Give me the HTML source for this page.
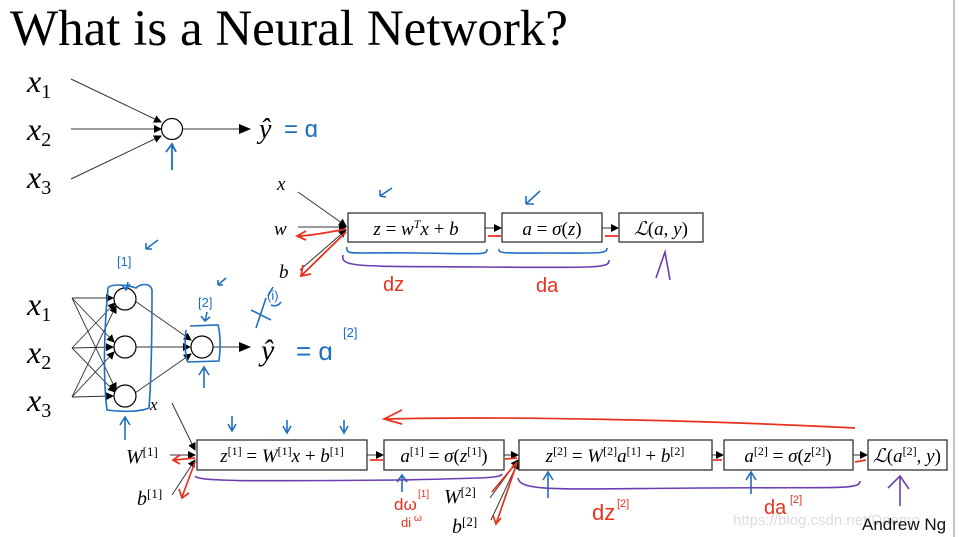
<!DOCTYPE html>
<html><head><meta charset="utf-8"><style>
body{margin:0;background:#fff;}
svg{display:block;}
.s{font-family:"Liberation Serif","DejaVu Serif",serif;font-style:italic;}
.m{font-family:"Liberation Serif","DejaVu Serif",serif;}
</style></head><body>
<svg width="959" height="537" viewBox="0 0 959 537" xmlns="http://www.w3.org/2000/svg">
<defs>
<marker id="ah" markerWidth="8" markerHeight="8" refX="7" refY="4" orient="auto" markerUnits="userSpaceOnUse"><path d="M0,0 L8,4 L0,8 z" fill="#000"/></marker>
<marker id="ahs" markerWidth="12" markerHeight="10" refX="11" refY="5" orient="auto" markerUnits="userSpaceOnUse"><path d="M0,0 L12,5 L0,10 z" fill="#000"/></marker>
</defs>
<rect width="959" height="537" fill="#fff"/>
<line x1="954" y1="0" x2="954" y2="537" stroke="#888" stroke-width="1"/>
<text x="10" y="45" class="m" font-size="51">What is a Neural Network?</text>

<!-- top network -->
<g class="s" font-size="32">
<text x="27" y="92">x<tspan font-size="20" dy="6" font-style="normal">1</tspan></text>
<text x="27" y="140">x<tspan font-size="20" dy="6" font-style="normal">2</tspan></text>
<text x="27" y="188">x<tspan font-size="20" dy="6" font-style="normal">3</tspan></text>
</g>
<g stroke="#333" stroke-width="1" fill="none">
<line x1="71" y1="79" x2="161" y2="122" marker-end="url(#ah)"/>
<line x1="71" y1="129" x2="161" y2="129" marker-end="url(#ah)"/>
<line x1="71" y1="179" x2="161" y2="136" marker-end="url(#ah)"/>
<line x1="183" y1="129" x2="250" y2="129" marker-end="url(#ahs)"/>
</g>
<circle cx="172" cy="129" r="10.5" fill="#fff" stroke="#000" stroke-width="1.2"/>
<text x="259" y="138" class="s" font-size="28">ŷ</text>
<text x="284" y="137" font-family="Liberation Sans" font-size="24" fill="#1f6fc0">= ɑ</text>
<path d="M172,170 L172,145 M166,152 L172,144 L176,152" stroke="#1f6fc0" stroke-width="1.8" fill="none"/>

<!-- middle logistic graph -->
<g class="s" font-size="19"><text x="277" y="190">x</text><text x="274" y="235">w</text><text x="279" y="278">b</text></g>
<g stroke="#333" stroke-width="1" fill="none">
<line x1="298" y1="192" x2="346" y2="226" marker-end="url(#ah)"/>
<line x1="298" y1="227" x2="346" y2="227" marker-end="url(#ah)"/>
<line x1="300" y1="270" x2="346" y2="230" marker-end="url(#ah)"/>
<line x1="485" y1="228" x2="501" y2="228" marker-end="url(#ah)"/>
<line x1="602" y1="228" x2="618" y2="228" marker-end="url(#ah)"/>
</g>
<g fill="#fff" stroke="#333" stroke-width="1.3">
<rect x="348" y="213" width="137" height="29"/><rect x="502" y="213" width="100" height="29"/><rect x="619" y="213" width="84" height="29"/>
</g>
<g class="m" font-size="19" text-anchor="middle">
<text x="416" y="235"><tspan font-style="italic">z</tspan> = <tspan font-style="italic">w</tspan><tspan font-size="12" dy="-7" font-style="italic">T</tspan><tspan dy="7" font-style="italic">x</tspan> + <tspan font-style="italic">b</tspan></text>
<text x="552" y="235"><tspan font-style="italic">a</tspan> = <tspan font-style="italic">σ</tspan>(<tspan font-style="italic">z</tspan>)</text>
<text x="661" y="235"><tspan font-style="italic">ℒ</tspan>(<tspan font-style="italic">a</tspan>, <tspan font-style="italic">y</tspan>)</text>
</g>
<g stroke="#e8321e" stroke-width="1.8" fill="none">
<path d="M346,229 C330,232 310,236 298,236 M306,231 L297,236 L306,240"/>
<path d="M346,232 L302,275 M303,265 L301,276 L311,274"/>
<path d="M501,236 L488,236"/><path d="M618,236 L605,236"/>
</g>
<g stroke="#1f6fc0" stroke-width="1.6" fill="none">
<path d="M347,247 C346,256 350,252 418,253 C486,254 487,255 487,249"/>
<path d="M499,249 C498,254 505,253 552,253 C600,253 607,254 607,248"/>
<path d="M380,196 L392,188 M380,196 L380,190 M380,196 L386,197"/>
<path d="M526,204 L540,191 M526,204 L526,196 M526,204 L534,204"/>
</g>
<path d="M343,255 C340,268 360,266 480,267 C600,268 610,268 609,260" stroke="#6a3fb0" stroke-width="1.6" fill="none"/>
<path d="M656,278 L665,252 L670,280" stroke="#6a3fb0" stroke-width="1.6" fill="none"/>
<text x="383" y="291" font-family="Liberation Sans" font-size="20" fill="#e8321e">dz</text>
<text x="536" y="292" font-family="Liberation Sans" font-size="20" fill="#e8321e">da</text>

<!-- bottom network -->
<g class="s" font-size="32">
<text x="27" y="315">x<tspan font-size="20" dy="6" font-style="normal">1</tspan></text>
<text x="27" y="363">x<tspan font-size="20" dy="6" font-style="normal">2</tspan></text>
<text x="27" y="411">x<tspan font-size="20" dy="6" font-style="normal">3</tspan></text>
</g>
<g stroke="#333" stroke-width="0.9" fill="none">
<line x1="72" y1="298" x2="113" y2="298" marker-end="url(#ah)"/>
<line x1="72" y1="298" x2="114" y2="342" marker-end="url(#ah)"/>
<line x1="72" y1="298" x2="116" y2="390" marker-end="url(#ah)"/>
<line x1="72" y1="348" x2="115" y2="303" marker-end="url(#ah)"/>
<line x1="72" y1="348" x2="113" y2="347" marker-end="url(#ah)"/>
<line x1="72" y1="348" x2="115" y2="392" marker-end="url(#ah)"/>
<line x1="72" y1="397" x2="116" y2="306" marker-end="url(#ah)"/>
<line x1="72" y1="397" x2="114" y2="352" marker-end="url(#ah)"/>
<line x1="72" y1="397" x2="113" y2="396" marker-end="url(#ah)"/>
<line x1="135" y1="301" x2="191" y2="340" marker-end="url(#ah)"/>
<line x1="136" y1="347" x2="190" y2="347" marker-end="url(#ah)"/>
<line x1="135" y1="393" x2="191" y2="354" marker-end="url(#ah)"/>
<line x1="213" y1="347" x2="250" y2="347" marker-end="url(#ahs)"/>
</g>
<g fill="#fff" stroke="#000" stroke-width="1.2">
<circle cx="125" cy="299" r="11"/><circle cx="125" cy="347" r="11"/><circle cx="125" cy="396" r="11"/><circle cx="202" cy="347" r="11"/>
</g>
<text x="261" y="360" class="s" font-size="30">ŷ</text>
<text x="296" y="360" font-family="Liberation Sans" font-size="26" fill="#1f6fc0">= ɑ</text>
<text x="343" y="337" font-family="Liberation Sans" font-size="13" fill="#1f6fc0">[2]</text>
<g stroke="#1f6fc0" stroke-width="1.6" fill="none">
<path d="M108,288 C104,330 103,380 107,410 C120,412 140,412 149,408 C152,370 152,320 152,290 C150,282 140,284 136,288 C125,284 110,284 108,288"/>
<path d="M186,330 C184,345 186,360 188,362 L219,361 C221,345 220,332 218,325 L190,326"/>
<path d="M125,440 L125,418 M120,425 L125,417 L130,425"/>
<path d="M204,388 L204,368 M199,375 L204,367 L209,375"/>
<path d="M128,282 L126,290 M122,285 L126,290 L130,284"/>
<path d="M205,321 L207,312 M201,316 L205,321 L210,317"/>
<path d="M146,249 L158,240 M146,249 L146,243 M146,249 L152,249"/>
<path d="M218,285 L226,278 M218,285 L218,280 M218,285 L223,285"/>
<path d="M256,328 L266,298 M251,310 L271,320"/>
<path d="M268,296 L273,287 M271,305 C275,307 279,305 281,302"/>
</g>
<text x="117" y="266" font-family="Liberation Sans" font-size="13" fill="#1f6fc0">[1]</text>
<text x="198" y="307" font-family="Liberation Sans" font-size="13" fill="#1f6fc0">[2]</text>
<text x="267" y="300" font-family="Liberation Sans" font-size="13" fill="#1f6fc0">(i)</text>
<text x="150" y="410" class="s" font-size="17">x</text>

<!-- bottom row -->
<g class="s" font-size="20">
<text x="126" y="463">W<tspan font-size="13" font-style="normal" dy="-7">[1]</tspan></text>
<text x="137" y="505">b<tspan font-size="13" font-style="normal" dy="-7">[1]</tspan></text>
<text x="444" y="503">W<tspan font-size="13" font-style="normal" dy="-7">[2]</tspan></text>
<text x="452" y="533">b<tspan font-size="13" font-style="normal" dy="-7">[2]</tspan></text>
</g>
<g stroke="#333" stroke-width="1" fill="none">
<line x1="172" y1="403" x2="195" y2="450" marker-end="url(#ah)"/>
<line x1="170" y1="455" x2="195" y2="455" marker-end="url(#ah)"/>
<line x1="172" y1="495" x2="195" y2="460" marker-end="url(#ah)"/>
<line x1="367" y1="455" x2="383" y2="455" marker-end="url(#ah)"/>
<line x1="504" y1="455" x2="518" y2="455" marker-end="url(#ah)"/>
<line x1="490" y1="498" x2="518" y2="460" marker-end="url(#ah)"/>
<line x1="491" y1="520" x2="518" y2="462" marker-end="url(#ah)"/>
<line x1="712" y1="455" x2="723" y2="455" marker-end="url(#ah)"/>
<line x1="853" y1="455" x2="867" y2="455" marker-end="url(#ah)"/>
</g>
<g fill="#fff" stroke="#333" stroke-width="1.3">
<rect x="197" y="440" width="170" height="30"/><rect x="384" y="440" width="120" height="30"/><rect x="519" y="440" width="193" height="30"/><rect x="724" y="440" width="129" height="30"/><rect x="868" y="440" width="79" height="30"/>
</g>
<g class="m" font-size="19" text-anchor="middle">
<text x="282" y="462"><tspan font-style="italic">z</tspan><tspan font-size="12" dy="-7">[1]</tspan><tspan dy="7"> = </tspan><tspan font-style="italic">W</tspan><tspan font-size="12" dy="-7">[1]</tspan><tspan dy="7" font-style="italic">x</tspan> + <tspan font-style="italic">b</tspan><tspan font-size="12" dy="-7">[1]</tspan></text>
<text x="444" y="462"><tspan font-style="italic">a</tspan><tspan font-size="12" dy="-7">[1]</tspan><tspan dy="7"> = </tspan><tspan font-style="italic">σ</tspan>(<tspan font-style="italic">z</tspan><tspan font-size="12" dy="-7">[1]</tspan><tspan dy="7">)</tspan></text>
<text x="615" y="462"><tspan font-style="italic">z</tspan><tspan font-size="12" dy="-7">[2]</tspan><tspan dy="7"> = </tspan><tspan font-style="italic">W</tspan><tspan font-size="12" dy="-7">[2]</tspan><tspan dy="7" font-style="italic">a</tspan><tspan font-size="12" dy="-7">[1]</tspan><tspan dy="7"> + </tspan><tspan font-style="italic">b</tspan><tspan font-size="12" dy="-7">[2]</tspan></text>
<text x="788" y="462"><tspan font-style="italic">a</tspan><tspan font-size="12" dy="-7">[2]</tspan><tspan dy="7"> = </tspan><tspan font-style="italic">σ</tspan>(<tspan font-style="italic">z</tspan><tspan font-size="12" dy="-7">[2]</tspan><tspan dy="7">)</tspan></text>
<text x="907" y="462"><tspan font-style="italic">ℒ</tspan>(<tspan font-style="italic">a</tspan><tspan font-size="12" dy="-7">[2]</tspan><tspan dy="7">, </tspan><tspan font-style="italic">y</tspan>)</text>
</g>
<g stroke="#e8321e" stroke-width="1.7" fill="none">
<path d="M855,428 C700,420 500,416 386,419 M402,410 L384,419 L402,424"/>
<path d="M195,458 L174,460 M180,455 L173,460 L180,464"/>
<path d="M195,462 L182,497 M179,489 L182,498 L189,493"/>
<path d="M383,460 L370,460"/>
<path d="M517,458 L505,459"/>
<path d="M517,462 L492,492 M517,463 L496,524 M493,515 L496,524 L501,518"/>
<path d="M722,460 L713,460"/><path d="M866,460 L855,462"/>
</g>
<g stroke="#1f6fc0" stroke-width="1.6" fill="none">
<path d="M232,416 L232,430 M228,424 L232,431 L236,424"/>
<path d="M287,420 L287,432 M283,426 L287,433 L291,426"/>
<path d="M344,420 L344,432 M340,426 L344,433 L348,426"/>
<path d="M402,492 L402,476 M397,482 L402,475 L407,482"/>
<path d="M548,498 L548,473 M543,480 L548,472 L553,480"/>
<path d="M751,494 L751,473 M746,480 L751,472 L756,480"/>
</g>
<g stroke="#6a3fb0" stroke-width="1.6" fill="none">
<path d="M195,476 C198,482 260,481 400,480 C490,478 500,478 502,474"/>
<path d="M518,478 C520,492 560,489 700,488 C840,487 860,490 860,481"/>
<path d="M888,488 L900,476 L909,489 M900,477 L900,506"/>
</g>
<g font-family="Liberation Sans" fill="#e8321e">
<text x="394" y="510" font-size="17">dω</text><text x="418" y="497" font-size="10">[1]</text>
<text x="401" y="527" font-size="13">di</text><text x="414" y="521" font-size="10">ω</text>
<text x="592" y="520" font-size="22">dz</text><text x="617" y="507" font-size="11">[2]</text>
<text x="764" y="514" font-size="20">da</text><text x="790" y="503" font-size="11">[2]</text>
</g>
<text x="733" y="525" font-family="Liberation Sans" font-size="15" fill="#ddd">https://blog.csdn.net/Deemo</text>
<text x="862" y="530" font-family="Liberation Sans" font-size="17" fill="#111">Andrew Ng</text>
</svg>
</body></html>
